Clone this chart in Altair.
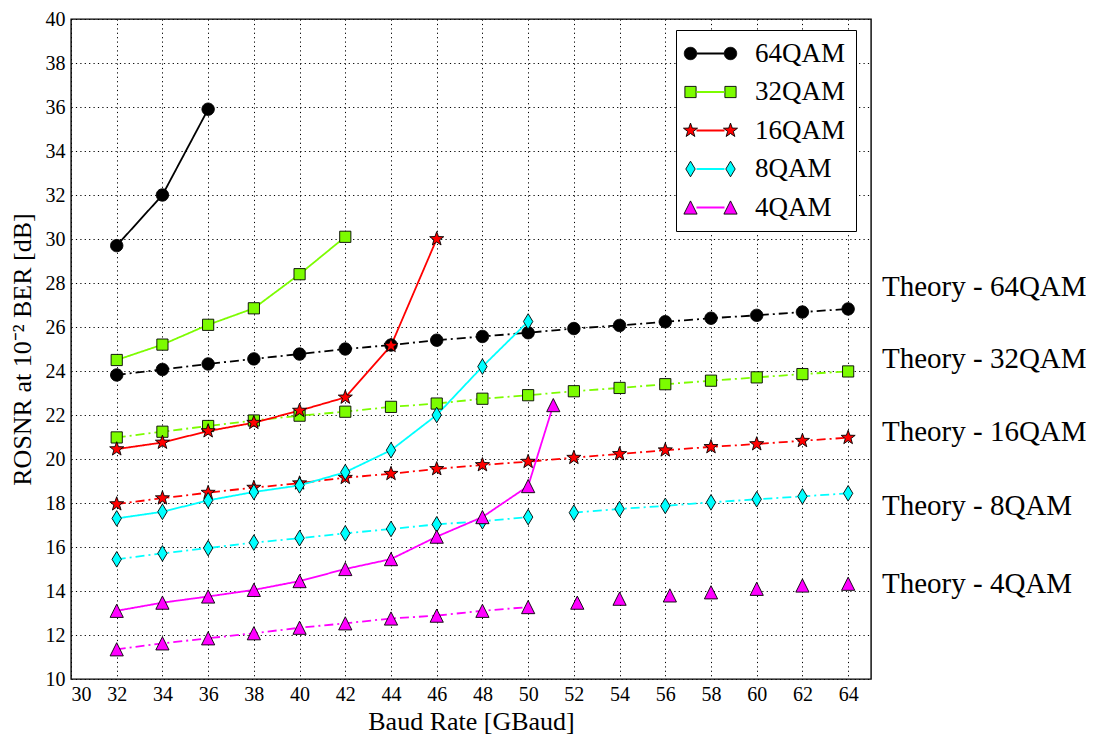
import math
import altair as alt
import pandas as pd

# ---------------- data ----------------
SERIES = ["64QAM", "32QAM", "16QAM", "8QAM", "4QAM"]
COLORS = ["#000000", "#7CFC00", "#FF0000", "#00FFFF", "#FF00FF"]

# measured curves
M64_X = [32, 34, 36]
M64_Y = [29.7, 32.0, 35.9]
M32_X = [32, 34, 36, 38, 40, 42]
M32_Y = [24.5, 25.2, 26.1, 26.85, 28.4, 30.1]
M16_X = [32, 34, 36, 38, 40, 42, 44, 46]
M16_Y = [20.45, 20.75, 21.27, 21.65, 22.2, 22.8, 25.15, 30.0]
M8_X = [32, 34, 36, 38, 40, 42, 44, 46, 48, 50]
M8_Y = [17.3, 17.6, 18.12, 18.5, 18.8, 19.4, 20.4, 22.0, 24.2, 26.25]
M4_X = [32, 34, 36, 38, 40, 42, 44, 46, 48, 50, 51.1]
M4_Y = [13.1, 13.47, 13.75, 14.05, 14.45, 15.0, 15.45, 16.47, 17.36, 18.77, 22.45]

# theory curves
T_X = [32, 34, 36, 38, 40, 42, 44, 46, 48, 50, 52, 54, 56, 58, 60, 62, 64]
T64_Y = [23.82, 24.07, 24.32, 24.55, 24.77, 25.0, 25.18, 25.4, 25.57, 25.74,
         25.93, 26.07, 26.24, 26.4, 26.53, 26.68, 26.82]
T32_Y = [20.98, 21.24, 21.5, 21.75, 21.97, 22.15, 22.37, 22.52, 22.74, 22.9,
         23.08, 23.23, 23.4, 23.56, 23.71, 23.86, 23.98]
T16_Y = [17.95, 18.22, 18.47, 18.7, 18.9, 19.15, 19.33, 19.55, 19.73, 19.88,
         20.06, 20.23, 20.4, 20.55, 20.68, 20.83, 20.97]
T8_Y = [15.44, 15.71, 15.95, 16.2, 16.4, 16.62, 16.82, 17.03, 17.17, 17.36,
        17.56, 17.73, 17.87, 18.03, 18.17, 18.3, 18.44]
T4_X = [32, 34, 36, 38, 40, 42, 44, 46, 48, 50, 52.15, 54, 56.2, 58, 60, 62, 64]
T4_Y = [11.35, 11.62, 11.85, 12.08, 12.33, 12.53, 12.75, 12.88, 13.1, 13.27,
        13.47, 13.65, 13.8, 13.94, 14.1, 14.25, 14.33]

THEORY_LABELS = ["Theory - 64QAM", "Theory - 32QAM", "Theory - 16QAM",
                 "Theory - 8QAM", "Theory - 4QAM"]
THEORY_LABEL_Y = [27.8, 24.55, 21.25, 17.85, 14.3]

X_TICKS = list(range(30, 65, 2))
Y_TICKS = list(range(10, 41, 2))

# ---------------- table ----------------
meas = {"64QAM": (M64_X, M64_Y), "32QAM": (M32_X, M32_Y), "16QAM": (M16_X, M16_Y),
        "8QAM": (M8_X, M8_Y), "4QAM": (M4_X, M4_Y)}
theo = {"64QAM": (T_X, T64_Y), "32QAM": (T_X, T32_Y), "16QAM": (T_X, T16_Y),
        "8QAM": (T_X, T8_Y), "4QAM": (T4_X, T4_Y)}

rows = []
for s in SERIES:
    xs, ys = meas[s]
    for x, y in zip(xs, ys):
        rows.append(dict(x=x, y=y, series=s, kind="Measured", seg=s + "m", line=True))
    xs, ys = theo[s]
    for x, y in zip(xs, ys):
        seg = s + "t"
        line = True
        if s == "8QAM" and x > 50:
            seg = s + "t2"          # gap between 50 and 52 in the original
        if s == "4QAM" and x > 50:
            line = False            # markers only beyond 50
        rows.append(dict(x=x, y=y, series=s, kind="Theory", seg=seg, line=line))
df = pd.DataFrame(rows)
lab_df = pd.DataFrame({"label": THEORY_LABELS, "y": THEORY_LABEL_Y})
leg_df = pd.DataFrame({"series": SERIES})
# separate keys for the line part of the legend (keeps the two legends unmerged)
SERIES_L = [s + " " for s in SERIES]
leg_df_l = pd.DataFrame({"series_l": SERIES_L})

# ---------------- marker shapes (style) ----------------
KINDS = ["circle", "square", "star", "thin_diamond", "triangle"]


def shape_path(kind, cx, unit):
    """Path in symbol units; geometry given in pixels, unit = px per symbol unit."""
    def f(v):
        return f"{v / unit:.4f}"
    if kind == "circle":
        r = 6.2
        return (f"M{f(cx - r)},0A{f(r)},{f(r)} 0 1,0 {f(cx + r)},0"
                f"A{f(r)},{f(r)} 0 1,0 {f(cx - r)},0Z")
    if kind == "square":
        h = 5.6
        return (f"M{f(cx - h)},{f(-h)}L{f(cx + h)},{f(-h)}L{f(cx + h)},{f(h)}"
                f"L{f(cx - h)},{f(h)}Z")
    if kind == "star":
        R, r = 7.4, 3.0
        pts = []
        for i in range(10):
            a = -math.pi / 2 + i * math.pi / 5
            rr = R if i % 2 == 0 else r
            pts.append((cx + rr * math.cos(a), rr * math.sin(a)))
        return "M" + "L".join(f"{f(px)},{f(py)}" for px, py in pts) + "Z"
    if kind == "thin_diamond":
        hh, hw = 7.8, 4.7
        return (f"M{f(cx)},{f(-hh)}L{f(cx + hw)},0L{f(cx)},{f(hh)}"
                f"L{f(cx - hw)},0Z")
    if kind == "triangle":
        h = 6.6
        return f"M{f(cx)},{f(-h)}L{f(cx + h)},{f(h)}L{f(cx - h)},{f(h)}Z"


MARK_SIZE = 196          # sqrt = 14 -> 7 px per unit
LEG_SIZE = 400           # sqrt = 20 -> 10 px per unit
MARK_PATHS = [shape_path(k, 0, 7.0) for k in KINDS]
LEG_PATHS = [shape_path(k, -20, 10.0) + shape_path(k, 20, 10.0) for k in KINDS]
LEG_LINE = "M-1.4,0L1.4,0"

FONT = "Liberation Serif"

xs = alt.Scale(domain=[30, 65], nice=False, zero=False)
ys = alt.Scale(domain=[10, 40], nice=False, zero=False)
x_enc = alt.X("x:Q", scale=xs, axis=alt.Axis(values=X_TICKS, title="Baud Rate [GBaud]"))
y_enc = alt.Y("y:Q", scale=ys,
              axis=alt.Axis(values=Y_TICKS, title="ROSNR at 10\u207b\u00b2 BER [dB]"))

lines = alt.Chart(df).transform_filter("datum.line").mark_line(strokeWidth=1.8).encode(
    x=x_enc, y=y_enc,
    color=alt.Color("series:N", scale=alt.Scale(domain=SERIES, range=COLORS), legend=None),
    strokeDash=alt.StrokeDash("kind:N", scale=alt.Scale(domain=["Measured", "Theory"],
                                                        range=[[1, 0], [9, 4, 2, 4]]),
                              legend=None),
    detail="seg:N",
)

points = alt.Chart(df).mark_point(filled=True, size=MARK_SIZE, stroke="black",
                                  strokeWidth=0.9, opacity=1).encode(
    x=x_enc, y=y_enc,
    fill=alt.Fill("series:N", scale=alt.Scale(domain=SERIES, range=COLORS), legend=None),
    shape=alt.Shape("series:N", scale=alt.Scale(domain=SERIES, range=MARK_PATHS), legend=None),
)

labels = alt.Chart(lab_df).mark_text(font=FONT, fontSize=29, align="left",
                                     baseline="middle", color="black").encode(
    x=alt.value(811), y=alt.Y("y:Q", scale=ys), text="label:N")

common_leg = dict(title=None, orient="none", legendX=605, legendY=11, padding=10,
                  symbolSize=LEG_SIZE, symbolOffset=11, labelOffset=31,
                  labelFont=FONT, labelFontSize=27, labelColor="black",
                  rowPadding=10.5, labelLimit=300)

marker_leg = alt.Legend(**common_leg, fillColor="white", strokeColor="black",
                        symbolStrokeWidth=0.9, symbolOpacity=1, zindex=1)

leg_markers = alt.Chart(leg_df).transform_filter("false").mark_point(
    filled=True, opacity=1, strokeWidth=0.9).encode(
    fill=alt.Fill("series:N", scale=alt.Scale(domain=SERIES, range=COLORS), legend=marker_leg),
    shape=alt.Shape("series:N", scale=alt.Scale(domain=SERIES, range=LEG_PATHS),
                    legend=marker_leg),
    stroke=alt.Stroke("series:N", scale=alt.Scale(domain=SERIES, range=["#000000"] * 5),
                      legend=marker_leg),
)

leg_lines = alt.Chart(leg_df_l).transform_filter("false").mark_point(
    filled=False, opacity=1, strokeWidth=2).encode(
    stroke=alt.Stroke("series_l:N", scale=alt.Scale(domain=SERIES_L, range=COLORS),
                      legend=alt.Legend(**common_leg, symbolType=LEG_LINE,
                                        symbolStrokeWidth=2, labelOpacity=0,
                                        symbolOpacity=1, zindex=2)),
)

chart = alt.layer(lines, points, labels, leg_markers, leg_lines).resolve_scale(
    fill="independent", shape="independent", stroke="independent"
).resolve_legend(fill="independent", shape="independent", stroke="independent").properties(
    width=800, height=660,
    autosize=alt.AutoSizeParams(type="none"),
    padding={"left": 63, "top": 11, "right": 215, "bottom": 58},
).configure(font=FONT).configure_view(stroke="black", strokeWidth=1.4).configure_axis(
    grid=True, gridColor="black", gridDash=[1.2, 3.2], gridWidth=1, gridOpacity=1,
    domain=False, ticks=False, labelFont=FONT, labelFontSize=20, labelColor="black",
    titleFont=FONT, titleFontSize=26, titleFontWeight="normal", titleColor="black",
).configure_axisX(labelPadding=5, titlePadding=4).configure_axisY(
    labelPadding=6, titlePadding=10)

chart.save("out.html", embed_options={"renderer": "svg", "actions": False})
